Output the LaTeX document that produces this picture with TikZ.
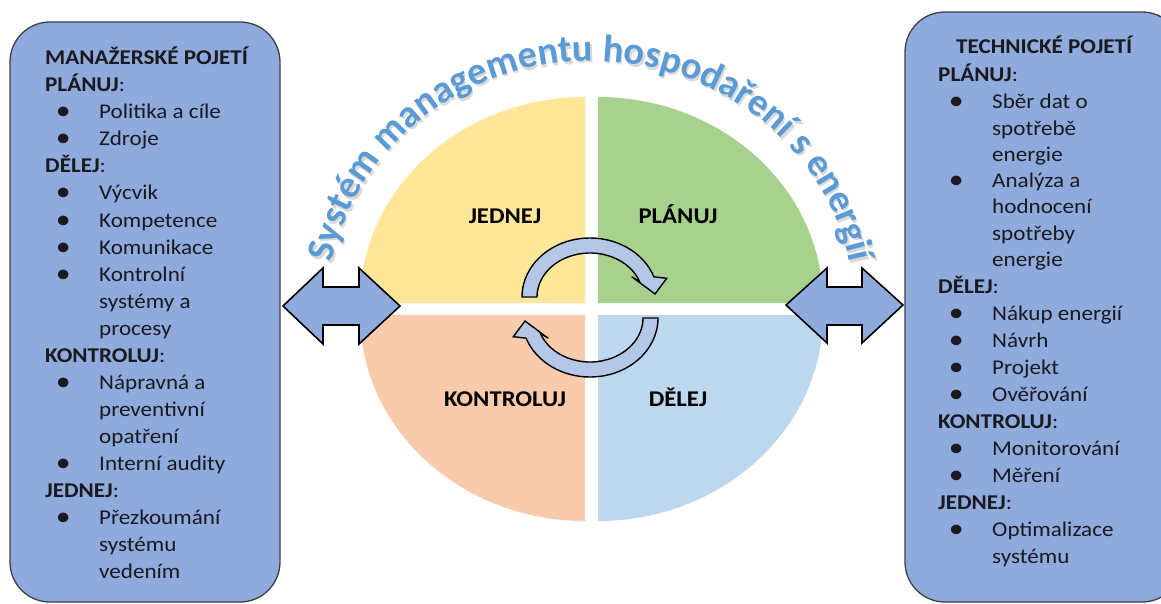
\documentclass[tikz,border=0pt]{standalone}
\usepackage{fontspec}
\setmainfont{Carlito}[FakeStretch=1.1]
\newfontfamily\titlefam{Carlito}
\usetikzlibrary{decorations.text}
\definecolor{boxblue}{RGB}{143,170,220}
\definecolor{boxline}{RGB}{64,64,72}
\definecolor{cycblue}{RGB}{180,199,231}
\definecolor{qyellow}{RGB}{255,230,153}
\definecolor{qgreen}{RGB}{169,209,142}
\definecolor{qorange}{RGB}{248,203,173}
\definecolor{qblue}{RGB}{189,215,238}
\definecolor{titleblue}{RGB}{91,155,213}
\definecolor{txt}{RGB}{25,25,30}
\newcommand\HdT[1]{\textbf{#1}}
\newcommand\HdS[1]{\textbf{#1}:}
\newcommand\BlT[1]{\llap{\makebox[0pt][c]{\raisebox{-1pt}{\fontsize{27}{27}\selectfont\textbullet}}\hspace{36pt}}#1}
\newcommand\PlT[1]{#1}
\newcommand\titlefont{\titlefam\fontsize{38.5}{38.5}\selectfont\bfseries}
\begin{document}
\begin{tikzpicture}[x=1pt,y=1pt,
  panel/.style={draw=boxline, line width=1.3pt, fill=boxblue, rounded corners=40pt, inner sep=0pt},
  boxtext/.style={anchor=base west, inner sep=0pt, text=txt, font=\fontsize{21}{27}\selectfont},
  quadlabel/.style={anchor=base, inner sep=0pt, text=black, font=\fontsize{22.5}{27}\selectfont\bfseries},
  dblarrow/.style={draw=black, line width=1.6pt, fill=boxblue, line join=miter},
  cycarrow/.style={draw=black, line width=1.4pt, fill=cycblue, line join=miter},
]
\useasboundingbox (0,0) rectangle (1161,-604);
\fill[white] (0,0) rectangle (1161,-604);

% panels
\node[panel, minimum width=270pt, minimum height=580pt] (lbox) at (145,-312) {};
\node[panel, minimum width=277pt, minimum height=590pt] (rbox) at (1043.5,-307) {};

% quadrants
\fill[qyellow] (585,-303) -- (360,-303) arc[start angle=180,end angle=90,x radius=225pt,y radius=206pt] -- cycle;
\fill[qgreen] (598,-303) -- (598,-97) arc[start angle=90,end angle=0,x radius=225pt,y radius=206pt] -- cycle;
\fill[qorange] (585,-315) -- (585,-521) arc[start angle=270,end angle=180,x radius=225pt,y radius=206pt] -- cycle;
\fill[qblue] (598,-315) -- (823,-315) arc[start angle=0,end angle=-90,x radius=225pt,y radius=206pt] -- cycle;

% quadrant labels
\node[quadlabel] (jednej) at (505,-223) {JEDNEJ};
\node[quadlabel] (planuj) at (678,-223) {PLÁNUJ};
\node[quadlabel] (kontroluj) at (505,-406) {KONTROLUJ};
\node[quadlabel] (delej) at (678,-406) {DĚLEJ};

% title along arc (shadow + text); centre (591,-312), radii 264 x 251
\path[decorate, decoration={text along path, text align=center,
  text={|\titlefont\color{gray!30}|Systém managementu hospodaření s energií}}]
  (328.66,-305.74) arc[start angle=178,end angle=2,x radius=264pt,y radius=251pt];
\path[decorate, decoration={text along path, text align=center,
  text={|\titlefont\color{titleblue}|Systém managementu hospodaření s energií}}]
  (327.16,-303.24) arc[start angle=178,end angle=2,x radius=264pt,y radius=251pt];

% double arrows
\draw[dblarrow] (283,-306) -- (323,-268) -- (323,-287) -- (359,-287) -- (359,-268) -- (400,-306)
  -- (359,-344) -- (359,-325) -- (323,-325) -- (323,-344) -- cycle;
\draw[dblarrow] (786,-305) -- (827,-268) -- (827,-287) -- (862,-287) -- (862,-268) -- (903,-305)
  -- (862,-343) -- (862,-325) -- (827,-325) -- (827,-343) -- cycle;

% circular arrows
\draw[cycarrow] (522,-297) arc[start angle=180,end angle=20,x radius=68pt,y radius=59pt]
  -- (666.7,-278.3) -- (655,-294) -- (631.7,-276.7) -- (639.8,-281.95)
  arc[start angle=20,end angle=180,x radius=53pt,y radius=44pt] -- cycle;
\draw[cycarrow, rotate around={180:(590,-307.5)}] (522,-297) arc[start angle=180,end angle=20,x radius=68pt,y radius=59pt]
  -- (666.7,-278.3) -- (655,-294) -- (631.7,-276.7) -- (639.8,-281.95)
  arc[start angle=20,end angle=180,x radius=53pt,y radius=44pt] -- cycle;

% left panel text
\foreach \dx/\t [count=\i] in {0/\HdT{MANAŽERSKÉ POJETÍ}, 0/\HdS{PLÁNUJ}, 54/\BlT{Politika a cíle},
  54/\BlT{Zdroje}, 0/\HdS{DĚLEJ}, 54/\BlT{Výcvik}, 54/\BlT{Kompetence}, 54/\BlT{Komunikace},
  54/\BlT{Kontrolní}, 54/\PlT{systémy a}, 54/\PlT{procesy}, 0/\HdS{KONTROLUJ},
  54/\BlT{Nápravná a}, 54/\PlT{preventivní}, 54/\PlT{opatření}, 54/\BlT{Interní audity},
  0/\HdS{JEDNEJ}, 54/\BlT{Přezkoumání}, 54/\PlT{systému}, 54/\PlT{vedením}}
  \node[boxtext] (l\i) at ({45+\dx},{-65-27*(\i-1)}) {\t};

% right panel text
\foreach \dx/\yy/\t [count=\i] in {18/54/\HdT{TECHNICKÉ POJETÍ}, 0/81.5/\HdS{PLÁNUJ}, 54/109/\BlT{Sběr dat o},
  54/135.5/\PlT{spotřebě}, 54/162/\PlT{energie}, 54/188/\BlT{Analýza a}, 54/214/\PlT{hodnocení}, 54/240/\PlT{spotřeby},
  54/266/\PlT{energie}, 0/293/\HdS{DĚLEJ}, 54/320/\BlT{Nákup energií}, 54/347/\BlT{Návrh}, 54/374/\BlT{Projekt},
  54/401/\BlT{Ověřování}, 0/428/\HdS{KONTROLUJ}, 54/455/\BlT{Monitorování}, 54/482/\BlT{Měření},
  0/509/\HdS{JEDNEJ}, 54/536/\BlT{Optimalizace}, 54/563/\PlT{systému}}
  \node[boxtext] (r\i) at ({938+\dx},{-\yy}) {\t};
\end{tikzpicture}
\end{document}
